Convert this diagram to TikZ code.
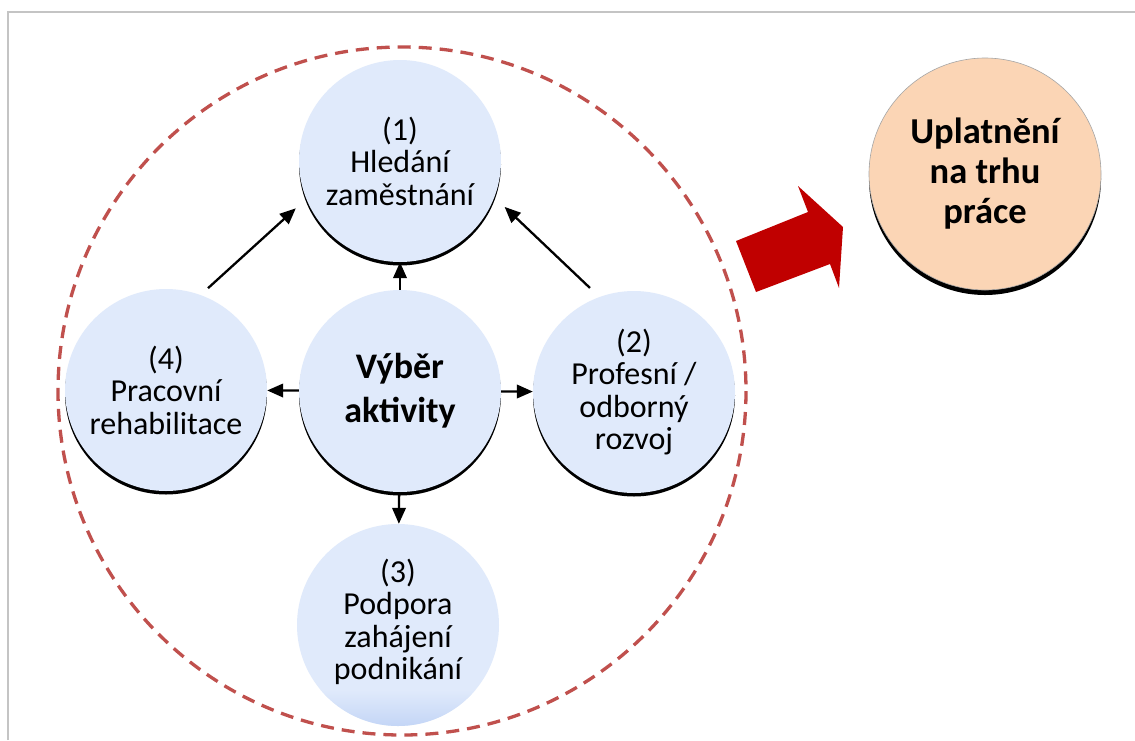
\documentclass[tikz,border=0pt]{standalone}
\usepackage{fontspec}
\setmainfont{Carlito}
\usetikzlibrary{arrows.meta,shadows}
\definecolor{cellblue}{HTML}{E0EAFB}
\definecolor{cellbluedeep}{HTML}{C3D5F6}
\definecolor{goalpeach}{HTML}{FBD5B5}
\definecolor{ringred}{HTML}{C0504D}
\definecolor{blockred}{HTML}{C00000}
\definecolor{framegrey}{HTML}{C4C4C4}
\begin{document}
\begin{tikzpicture}[x=1pt,y=-1pt,
  activity/.style={circle, fill=cellblue, minimum size=202pt, inner sep=0pt,
    align=center, font=\fontsize{32pt}{32.5pt}\selectfont},
  shadowed/.style={drop shadow={shadow xshift=0pt, shadow yshift=-3.5pt,
    fill=black, opacity=1}},
  hub/.style={activity, font=\fontsize{36pt}{44pt}\selectfont\bfseries},
  goal/.style={circle, fill=goalpeach, draw=gray!70, line width=0.6pt,
    minimum size=232pt, inner sep=0pt, align=center,
    font=\fontsize{36.5pt}{40pt}\selectfont\bfseries,
    drop shadow={shadow xshift=0pt, shadow yshift=-5pt, fill=black, opacity=1}},
  link/.style={line width=2.3pt, -{Triangle[length=16pt,width=13.5pt]}},
  ring/.style={draw=ringred, line width=3.3pt, dash pattern=on 13pt off 8pt}]

\useasboundingbox (0,0) rectangle (1135,740);
\fill[white] (0,0) rectangle (1135,740);

% page frame
\draw[framegrey, line width=2pt] (8,740) -- (8,12) -- (1135,12);

% dashed boundary of the activity cluster
\draw[ring] (402,391) circle (344);

% activity circles
\node[activity, shadowed] (h1) at (400,161) {(1)\\Hledání\\zaměstnání};
\node[hub, shadowed]      (hub) at (400,391) {Výběr\\aktivity};
\node[activity, shadowed] (h4) at (166,390) {(4)\\Pracovní\\rehabilitace};
\node[activity, shadowed] (h2) at (634,392) {(2)\\Profesní /\\odborný\\rozvoj};
\node[activity] (h3) at (398,625) {};
\begin{scope}
  \clip (398,625) circle (101);
  \shade[top color=cellblue, bottom color=cellbluedeep] (290,690) rectangle (510,727);
\end{scope}
\node[activity, fill=none] (h3text) at (398,622) {(3)\\Podpora\\zahájení\\podnikání};

% goal circle
\node[goal] (goal) at (985,174) {Uplatnění\\na trhu\\práce};

% connectors
\draw[link] (hub) -- (h1);
\draw[link] (hub) -- (h4);
\draw[link] (hub) -- (h2);
\draw[link] (hub) -- (h3);
\draw[link, shorten <=10pt, shorten >=14pt] (h4.70) -- (h1.202);
\draw[link, shorten <=13pt, shorten >=14pt] (h2.110) -- (h1.-21);

% block arrow towards the goal
\fill[blockred] (736,241) -- (808,212) -- (798,186) -- (843,227)
  -- (839,288) -- (830,264) -- (756,292) -- cycle;
\end{tikzpicture}
\end{document}
